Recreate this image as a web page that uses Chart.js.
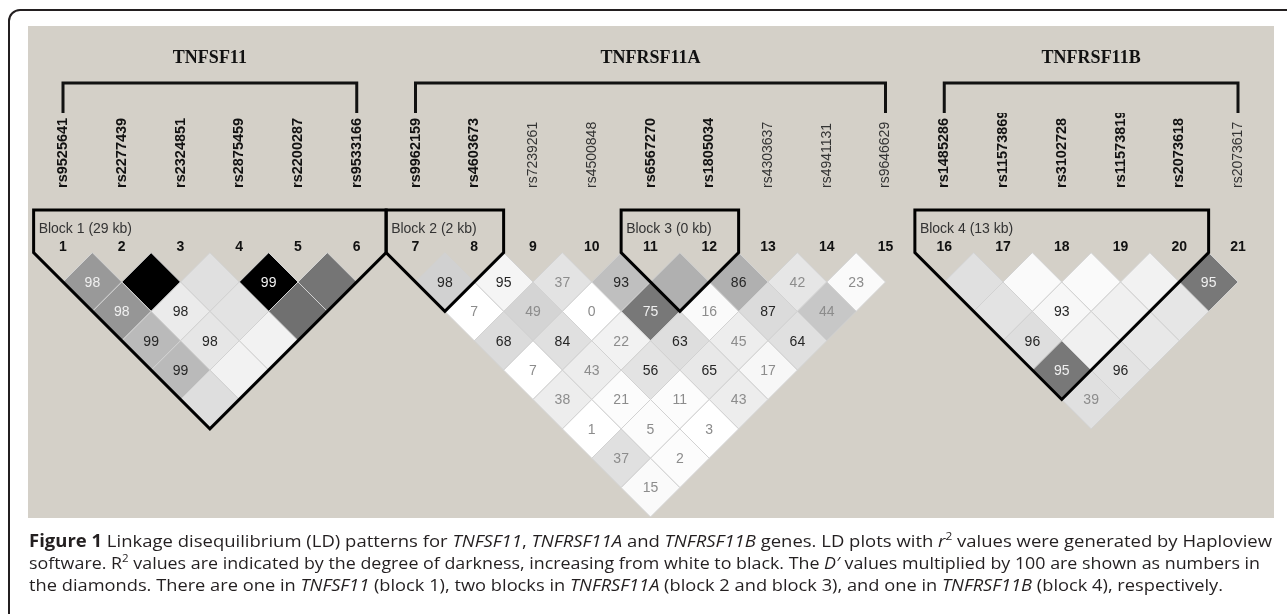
<!DOCTYPE html>
<html>
<head>
<meta charset="utf-8">
<script src="https://cdn.jsdelivr.net/npm/chart.js@4.4.1/dist/chart.umd.min.js"></script>
<style>
html, body { margin: 0; padding: 0; background: #fff; }
#wrap { width: 1287px; height: 614px; }
</style>
</head>
<body>
<div id="wrap"><canvas id="ld" width="1287" height="614"></canvas></div>
<script>
// markers, numbered 1..21 left to right
const markerNames = [
    'rs9525641', 'rs2277439', 'rs2324851', 'rs2875459', 'rs2200287', 'rs9533166',
    'rs9962159', 'rs4603673', 'rs7239261', 'rs4500848', 'rs6567270', 'rs1805034',
    'rs4303637', 'rs4941131', 'rs9646629',
    'rs1485286', 'rs11573869', 'rs3102728', 'rs11573819', 'rs2073618', 'rs2073617'
];
const geneNames = ['TNFSF11', 'TNFRSF11A', 'TNFRSF11B'];
const geneFirst = [1, 7, 16];
const geneLast = [6, 15, 21];
const blockLabels = ['Block 1 (29 kb)', 'Block 2 (2 kb)', 'Block 3 (0 kb)', 'Block 4 (13 kb)'];
const blockFirst = [1, 7, 11, 16];
const blockLast = [6, 8, 12, 20];

// r2 and D'x100 per gene, one row per marker distance (1 = neighbours)
const r2Tnfsf11 = [
    [0.40, 1.00, 0.12, 1.00, 0.54],
    [0.41, 0.08, 0.11, 0.56],
    [0.27, 0.10, 0.05],
    [0.27, 0.05],
    [0.13]
];
const dTnfsf11 = [
    [98, 100, 100, 99, 100],
    [98, 98, 100, 100],
    [99, 98, 100],
    [99, 100],
    [100]
];
const r2Tnfrsf11a = [
    [0.18, 0.04, 0.11, 0.25, 0.31, 0.31, 0.10, 0.02],
    [0.00, 0.17, 0.00, 0.53, 0.02, 0.14, 0.22],
    [0.14, 0.12, 0.05, 0.13, 0.07, 0.12],
    [0.00, 0.07, 0.11, 0.09, 0.03],
    [0.07, 0.01, 0.01, 0.07],
    [0.00, 0.01, 0.00],
    [0.12, 0.01],
    [0.02]
];
const dTnfrsf11a = [
    [98, 95, 37, 93, 100, 86, 42, 23],
    [7, 49, 0, 75, 16, 87, 44],
    [68, 84, 22, 63, 45, 64],
    [7, 43, 56, 65, 17],
    [38, 21, 11, 43],
    [1, 5, 3],
    [37, 2],
    [15]
];
const r2Tnfrsf11b = [
    [0.12, 0.02, 0.02, 0.05, 0.53],
    [0.11, 0.03, 0.06, 0.10],
    [0.13, 0.06, 0.09],
    [0.53, 0.11],
    [0.12]
];
const dTnfrsf11b = [
    [100, 100, 100, 100, 95],
    [100, 93, 100, 100],
    [96, 100, 100],
    [95, 96],
    [39]
];

function pairs(first, r2rows, drows) {
    const out = [];
    r2rows.forEach((row, k) => row.forEach((r2, n) => {
        const i = first + n;
        const j = i + k + 1;
        out.push({x: (i + j) / 2, y: k + 1, r2: r2, d: drows[k][n]});
    }));
    return out;
}

const cells = [].concat(
    pairs(geneFirst[0], r2Tnfsf11, dTnfsf11),
    pairs(geneFirst[1], r2Tnfrsf11a, dTnfrsf11a),
    pairs(geneFirst[2], r2Tnfrsf11b, dTnfrsf11b)
);

function shade(r2) {
    const g = Math.round(255 * (1 - r2));
    return `rgb(${g},${g},${g})`;
}

function labelColor(r2, d) {
    if (255 * (1 - r2) < 170) return '#f0f0f0';
    return d >= 50 ? '#262626' : '#8c8c8c';
}

const captionLines = [
    [{t: 'Figure 1', b: true}, {t: ' Linkage disequilibrium (LD) patterns for '}, {t: 'TNFSF11', i: true}, {t: ', '},
     {t: 'TNFRSF11A', i: true}, {t: ' and '}, {t: 'TNFRSF11B', i: true}, {t: ' genes. LD plots with '},
     {t: 'r', i: true}, {t: '2', sup: true}, {t: ' values were generated by Haploview'}],
    [{t: 'software. R'}, {t: '2', sup: true}, {t: ' values are indicated by the degree of darkness, increasing from white to black. The '},
     {t: 'D\u2032', i: true}, {t: ' values multiplied by 100 are shown as numbers in'}],
    [{t: 'the diamonds. There are one in '}, {t: 'TNFSF11', i: true}, {t: ' (block 1), two blocks in '},
     {t: 'TNFRSF11A', i: true}, {t: ' (block 2 and block 3), and one in '}, {t: 'TNFRSF11B', i: true},
     {t: ' (block 4), respectively.'}]
];
const captionWidths = [1243, 1231, 1194];

function segFont(s) {
    const size = s.sup ? 11 : 17;
    return `${s.i ? 'italic ' : ''}${s.b ? 'bold ' : ''}${size}px "Open Sans", sans-serif`;
}

function drawRich(ctx, segs, x, y, target) {
    let total = 0;
    segs.forEach(s => { ctx.font = segFont(s); total += ctx.measureText(s.t).width; });
    ctx.save();
    ctx.translate(x, y);
    ctx.scale(target / total, 1);
    let cx = 0;
    segs.forEach(s => {
        ctx.font = segFont(s);
        ctx.fillText(s.t, cx, s.sup ? -7 : 0);
        cx += ctx.measureText(s.t).width;
    });
    ctx.restore();
}

const ldDecor = {
    id: 'ldDecor',
    beforeDraw(chart) {
        const ctx = chart.ctx;
        ctx.save();
        ctx.fillStyle = '#ffffff';
        ctx.fillRect(0, 0, chart.width, chart.height);
        ctx.fillStyle = '#d4d0c8';
        ctx.fillRect(28, 26, 1246, 492);
        ctx.strokeStyle = '#231f20';
        ctx.lineWidth = 2;
        ctx.beginPath();
        ctx.moveTo(chart.width, 10);
        ctx.lineTo(20, 10);
        ctx.arcTo(9, 10, 9, 21, 11);
        ctx.lineTo(9, chart.height);
        ctx.stroke();
        ctx.restore();
    },
    afterDatasetsDraw(chart) {
        const ctx = chart.ctx;
        const xs = chart.scales.x;
        const ys = chart.scales.y;
        const px = v => xs.getPixelForValue(v);
        const py = v => ys.getPixelForValue(v);
        ctx.save();

        // D' numbers inside diamonds
        ctx.textAlign = 'center';
        ctx.textBaseline = 'middle';
        ctx.font = '14px "Liberation Sans", Arial, sans-serif';
        cells.forEach(c => {
            if (c.d >= 100) return;
            ctx.fillStyle = labelColor(c.r2, c.d);
            ctx.fillText(String(c.d), px(c.x), py(c.y) + 1);
        });

        // block outlines
        ctx.strokeStyle = '#000';
        ctx.lineWidth = 3;
        ctx.lineJoin = 'miter';
        const boxTop = 210;
        blockFirst.forEach((a, k) => {
            const b = blockLast[k];
            ctx.beginPath();
            ctx.moveTo(px(a - 0.5), boxTop);
            ctx.lineTo(px(a - 0.5), py(0));
            ctx.lineTo(px((a + b) / 2), py(b - a + 1));
            ctx.lineTo(px(b + 0.5), py(0));
            ctx.lineTo(px(b + 0.5), boxTop);
            ctx.closePath();
            ctx.stroke();
            ctx.fillStyle = '#333';
            ctx.font = '14px "Liberation Sans", Arial, sans-serif';
            ctx.textAlign = 'left';
            ctx.fillText(blockLabels[k], px(a - 0.5) + 5, 229);
        });

        // marker numbers and names
        const inBlock = m => blockFirst.some((a, k) => m >= a && m <= blockLast[k]);
        markerNames.forEach((name, n) => {
            const m = n + 1;
            const x = px(m);
            ctx.fillStyle = '#111';
            ctx.font = 'bold 14px "Liberation Sans", Arial, sans-serif';
            ctx.textAlign = 'center';
            ctx.textBaseline = 'middle';
            ctx.fillText(String(m), x, 247);

            ctx.save();
            ctx.beginPath();
            ctx.rect(x - 20, 113, 40, 90);
            ctx.clip();
            ctx.translate(x, 188);
            ctx.rotate(-Math.PI / 2);
            ctx.textAlign = 'left';
            ctx.textBaseline = 'middle';
            ctx.font = inBlock(m) ? 'bold 14.5px "Liberation Sans", Arial, sans-serif'
                                  : '14px "Liberation Sans", Arial, sans-serif';
            ctx.fillStyle = inBlock(m) ? '#111' : '#333';
            ctx.fillText(name, 0, 0);
            ctx.restore();
        });

        // gene brackets and names
        ctx.strokeStyle = '#111';
        ctx.lineWidth = 3;
        geneNames.forEach((g, k) => {
            const x1 = px(geneFirst[k]);
            const x2 = px(geneLast[k]);
            ctx.beginPath();
            ctx.moveTo(x1, 113);
            ctx.lineTo(x1, 83);
            ctx.lineTo(x2, 83);
            ctx.lineTo(x2, 113);
            ctx.stroke();
            ctx.fillStyle = '#111';
            ctx.font = 'bold 18px "Liberation Serif", "Times New Roman", serif';
            ctx.textAlign = 'center';
            ctx.textBaseline = 'middle';
            ctx.fillText(g, (x1 + x2) / 2, 58);
        });
        ctx.restore();
    },
    afterDraw(chart) {
        const ctx = chart.ctx;
        ctx.save();
        ctx.fillStyle = '#231f20';
        ctx.textAlign = 'left';
        ctx.textBaseline = 'alphabetic';
        const baselines = [547, 569, 590.5];
        captionLines.forEach((segs, k) => drawRich(ctx, segs, 29, baselines[k], captionWidths[k]));
        ctx.restore();
    }
};

const halfStep = c => {
    const xs = c.chart.scales.x;
    return (xs.getPixelForValue(1) - xs.getPixelForValue(0)) / 2;
};

new Chart(document.getElementById('ld').getContext('2d'), {
    type: 'scatter',
    data: {
        datasets: [{
            data: cells,
            pointStyle: 'rectRot',
            pointRadius: halfStep,
            pointHoverRadius: halfStep,
            pointBackgroundColor: c => c.raw ? shade(c.raw.r2) : '#fff',
            pointBorderColor: '#d2d2d2',
            pointBorderWidth: 1,
            clip: false
        }]
    },
    options: {
        responsive: false,
        animation: false,
        events: [],
        layout: {padding: {left: 33.625, right: 19.625, top: 252.625, bottom: 97}},
        scales: {
            x: {type: 'linear', display: false, min: 0.5, max: 21.5},
            y: {type: 'linear', display: false, min: 0, max: 9, reverse: true}
        },
        plugins: {
            legend: {display: false},
            tooltip: {enabled: false}
        }
    },
    plugins: [ldDecor]
});
</script>
</body>
</html>
